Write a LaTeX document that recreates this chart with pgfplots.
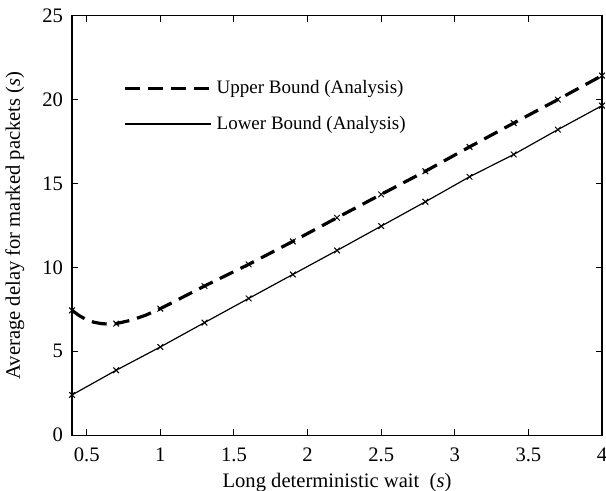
\documentclass[border=0pt]{standalone}
\usepackage{fontspec}
\setmainfont{Liberation Serif}
\usepackage{pgfplots}
\pgfplotsset{compat=1.18}

\begin{document}
\begin{tikzpicture}[font=\fontsize{10.3}{12.4}\selectfont]
\begin{axis}[
    scale only axis,
    width=265pt, height=209.75pt,
    xmin=0.4, xmax=4, ymin=0, ymax=25,
    xtick={0.5,1,...,4}, ytick={0,5,...,25},
    xticklabels={0.5,1,1.5,2,2.5,3,3.5,4},
    tick align=inside, major tick length=3pt,
    tick style={black, line width=0.5pt},
    axis line style={black, line width=0.6pt},
    /pgf/number format/assume math mode=true,
    yticklabel style={xshift=-1pt},
    xticklabel style={anchor=base, yshift=-13pt},
    xlabel={Long deterministic wait~ (\textit{s})},
    ylabel={Average delay for marked packets (\textit{s})},
    xlabel style={at={(rel axis cs:0.5,0)}, anchor=base, yshift=-26.3pt, inner sep=0pt},
    ylabel style={at={(rel axis cs:0,0.5)}, anchor=base, yshift=26pt},
    legend cell align=left,
    legend style={draw=none, fill=none, at={(0.085,0.865)}, anchor=north west,
        row sep=5.5pt, font=\fontsize{9.5}{11.4}\selectfont},
    legend image code/.code={\path (0pt,0pt) -- (43pt,0pt);
        \draw[#1] (0pt,0pt) -- (35pt,0pt);},
]
% upper bound: line
\addplot[black, line width=1.6pt, dash pattern=on 7.5pt off 4pt] coordinates {
    (0.40,7.44) (0.45,7.12) (0.50,6.88) (0.55,6.73) (0.60,6.65) (0.65,6.62)
    (0.70,6.65) (0.80,6.85) (0.90,7.15) (1.00,7.54) (1.30,8.89) (1.60,10.18)
    (1.90,11.55) (2.20,12.96) (2.50,14.35) (2.80,15.73) (3.10,17.18)
    (3.40,18.60) (3.70,20.00) (4.00,21.43)
};
\addlegendentry{Upper Bound (Analysis)}
% lower bound
\addplot[black, line width=0.6pt, mark=x, mark size=2pt, mark options={solid, line width=0.5pt}] coordinates {
    (0.40,2.40) (0.70,3.87) (1.00,5.26) (1.30,6.71) (1.60,8.15) (1.90,9.58)
    (2.20,11.01) (2.50,12.46) (2.80,13.91) (3.10,15.40) (3.40,16.73)
    (3.70,18.21) (4.00,19.64)
};
\addlegendentry{Lower Bound (Analysis)}
% upper bound: marks
\addplot[black, only marks, mark=x, mark size=2pt, mark options={line width=0.5pt}, forget plot] coordinates {
    (0.40,7.44) (0.70,6.65) (1.00,7.54) (1.30,8.89) (1.60,10.18) (1.90,11.55)
    (2.20,12.96) (2.50,14.35) (2.80,15.73) (3.10,17.18) (3.40,18.60)
    (3.70,20.00) (4.00,21.43)
};
\coordinate (bl) at (rel axis cs:0,0);
\coordinate (tr) at (rel axis cs:1,1);
\end{axis}
\pgfresetboundingbox
\path[use as bounding box] ([xshift=-36pt,yshift=-27.65pt]bl) rectangle ([xshift=2pt,yshift=7.85pt]tr);
\end{tikzpicture}
\end{document}
